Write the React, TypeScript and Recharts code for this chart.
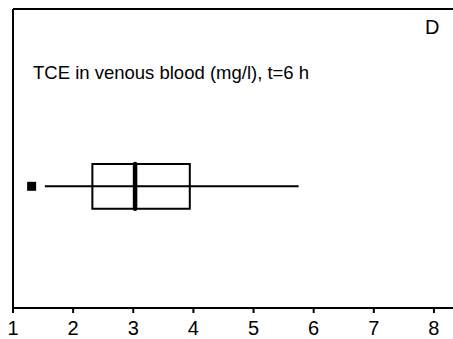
import React from 'react';
import { ComposedChart, XAxis, YAxis, ReferenceArea, ReferenceLine, Scatter } from 'recharts';

// Box-plot summary of TCE in venous blood (mg/l), t = 6 h
const xTicks = [1, 2, 3, 4, 5, 6, 7, 8];
const whiskerRange = [1.53, 5.75];
const quartileRange = [2.32, 3.94];
const medianValue = [3.03];
const outlierValues = [1.31];

const panelTitle = 'TCE in venous blood (mg/l), t=6 h';
const panelLetter = 'D';

const X_DOMAIN: [number, number] = [1, 8.5];
const Y_DOMAIN: [number, number] = [0, 1];
const ROW_Y = 0.407;
const HALF_BOX = 0.075;
const FONT = '"Liberation Sans", Arial, Helvetica, sans-serif';

const outlierData = outlierValues.map((v) => ({ x: v, y: ROW_Y }));

const SquareShape = (props: any) => {
  const { cx, cy } = props;
  if (cx == null || cy == null) return null;
  const s = 9;
  return <rect x={cx - s / 2} y={cy - s / 2} width={s} height={s} fill="#000" />;
};

export default function App() {
  return (
    <div style={{ position: 'absolute', left: 0, top: 0, width: 453, height: 339, overflow: 'hidden', background: '#fff' }}>
      <ComposedChart width={464} height={339} margin={{ top: 9, right: 0, bottom: 0, left: 13 }}>
        <XAxis
          type="number"
          dataKey="x"
          domain={X_DOMAIN}
          ticks={xTicks}
          allowDataOverflow
          height={31}
          tickSize={5}
          tickMargin={8}
          axisLine={{ stroke: '#000', strokeWidth: 2 }}
          tickLine={{ stroke: '#000', strokeWidth: 2 }}
          tick={{ fill: '#000', fontSize: 20, fontFamily: FONT }}
        />
        <YAxis type="number" dataKey="y" domain={Y_DOMAIN} hide />
        <ReferenceLine x={X_DOMAIN[0]} stroke="#000" strokeWidth={2} ifOverflow="visible" />
        <ReferenceLine y={Y_DOMAIN[1]} stroke="#000" strokeWidth={2} ifOverflow="visible" />
        <ReferenceLine
          segment={[
            { x: whiskerRange[0], y: ROW_Y },
            { x: whiskerRange[1], y: ROW_Y },
          ]}
          stroke="#000"
          strokeWidth={2}
        />
        <ReferenceArea
          x1={quartileRange[0]}
          x2={quartileRange[1]}
          y1={ROW_Y - HALF_BOX}
          y2={ROW_Y + HALF_BOX}
          fill="none"
          fillOpacity={0}
          stroke="#000"
          strokeWidth={2}
        />
        <ReferenceLine
          segment={[
            { x: medianValue[0], y: ROW_Y - HALF_BOX },
            { x: medianValue[0], y: ROW_Y + HALF_BOX },
          ]}
          stroke="#000"
          strokeWidth={4.5}
          strokeLinecap="round"
        />
        <Scatter data={outlierData} dataKey="y" shape={<SquareShape />} isAnimationActive={false} />
      </ComposedChart>
      <div style={{ position: 'absolute', left: 33, top: 63, fontFamily: FONT, fontSize: 18.5, color: '#000', whiteSpace: 'nowrap', lineHeight: '20px' }}>
        {panelTitle}
      </div>
      <div style={{ position: 'absolute', left: 425, top: 16, fontFamily: FONT, fontSize: 20, color: '#000', lineHeight: '22px' }}>
        {panelLetter}
      </div>
    </div>
  );
}
